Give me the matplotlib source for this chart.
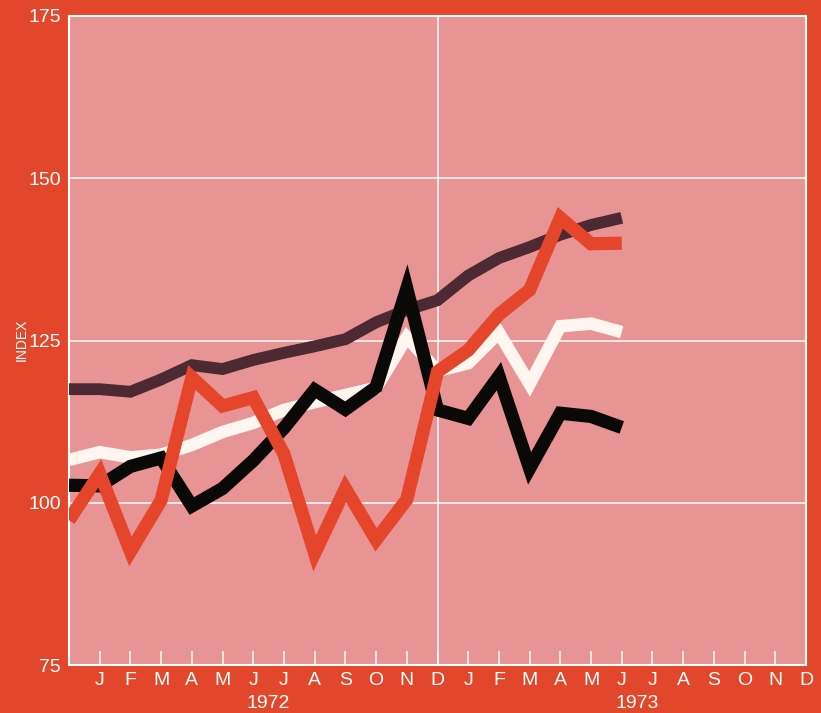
import numpy as np
import matplotlib
matplotlib.use('Agg')
import matplotlib.pyplot as plt

plt.rcParams['font.family'] = ['Liberation Sans', 'DejaVu Sans']

# month index: 0 = Dec 1971, 1..12 = 1972, 13..24 = 1973
months = ['J', 'F', 'M', 'A', 'M', 'J', 'J', 'A', 'S', 'O', 'N', 'D'] * 2
years = ['1972', '1973']

# index values Dec 1971 .. Jun 1973
dark_line = [117.5, 117.5, 117.1, 119.0, 121.2, 120.6, 122.0, 123.1, 124.1, 125.2,
             127.8, 129.7, 131.2, 135.0, 137.7, 139.4, 141.3, 142.8, 143.9]
white_line = [106.6, 107.8, 107.0, 107.4, 108.9, 110.9, 112.3, 114.3, 115.5, 116.6,
              117.7, 125.5, 120.3, 121.5, 126.2, 118.3, 127.2, 127.6, 126.3]
black_line = [102.7, 102.6, 105.6, 106.9, 99.5, 102.2, 106.5, 111.5, 117.4, 114.4,
              117.8, 133.0, 114.3, 113.0, 119.5, 105.3, 113.8, 113.3, 111.6]
red_line = [97.3, 104.5, 92.5, 100.4, 119.3, 114.9, 116.2, 107.5, 92.2, 102.2,
            94.3, 100.5, 120.2, 123.5, 129.0, 132.8, 143.9, 139.9, 140.0]

outer = '#e2472c'
inner = '#e99494'

fig = plt.figure(figsize=(8.21, 7.13), dpi=100, facecolor=outer)
ax = fig.add_axes([69 / 821, 1 - 665 / 713, 737 / 821, 649 / 713])
ax.set_facecolor(inner)

x = np.arange(len(dark_line))
style = dict(solid_joinstyle='miter', solid_capstyle='butt')
ax.plot(x, dark_line, color='#4d2a33', lw=8.5, zorder=3, **style)
ax.plot(x, white_line, color='#fff6ef', lw=9, zorder=4, **style)
ax.plot(x, black_line, color='#0b0808', lw=9.5, zorder=5, **style)
ax.plot(x, red_line, color='#e4452b', lw=9.5, zorder=6, **style)

ax.set_xlim(0, 24)
ax.set_ylim(75, 175)

# grid
for v in [100, 125, 150]:
    ax.axhline(v, color='white', lw=1.1, zorder=1)
ax.axvline(12, color='white', lw=1.1, zorder=1)

for s in ax.spines.values():
    s.set_color('white')
    s.set_linewidth(1.5)

ax.set_yticks([75, 100, 125, 150, 175])
ax.set_xticks(np.arange(1, 25))
ax.set_xticklabels(months)
ax.tick_params(axis='x', direction='in', length=10, width=1.1, color='white',
               labelcolor='white', labelsize=14, pad=5)
ax.tick_params(axis='y', length=0, labelcolor='white', labelsize=14, pad=6)

ax.text(6.5, -0.059, years[0], transform=ax.get_xaxis_transform(), ha='center',
        va='center', color='white', fontsize=14)
ax.text(18.5, -0.059, years[1], transform=ax.get_xaxis_transform(), ha='center',
        va='center', color='white', fontsize=14)

fig.text(22 / 821, 1 - 340 / 713, 'INDEX', rotation=90, ha='center', va='center',
         color='white', fontsize=10)

fig.savefig('out.png', dpi=100, facecolor=outer)
